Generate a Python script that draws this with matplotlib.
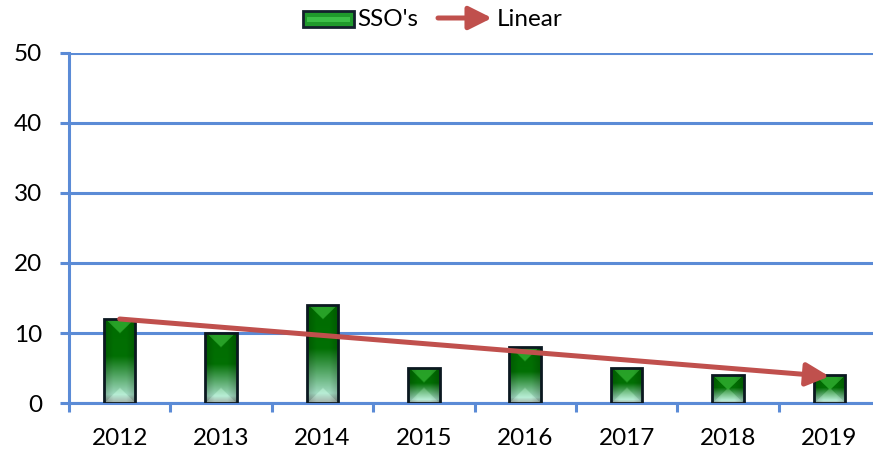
import numpy as np
import matplotlib
matplotlib.use("Agg")
import matplotlib.pyplot as plt
from matplotlib.patches import Rectangle, FancyArrowPatch

plt.rcParams['font.family'] = ['Lato', 'DejaVu Sans']

# ---- data ----
years = ['2012', '2013', '2014', '2015', '2016', '2017', '2018', '2019']
sso_counts = [12, 10, 14, 5, 8, 5, 4, 4]
trend_years_idx = [0, 7]          # trendline drawn from first to last category
trend_values = [12.0, 3.8]
y_ticks = [0, 10, 20, 30, 40, 50]

W, H = 873, 455
DPI = 100
BLUE = '#5B8BD6'
RED = '#C0504D'

fig = plt.figure(figsize=(W / DPI, H / DPI), dpi=DPI)
ax = fig.add_axes([69 / W, 1 - 403 / H, (880 - 69) / W, 350 / H])

x = np.arange(len(years))
bar_w = 0.31
ax.set_xlim(-0.5, len(years) - 0.5)
ax.set_ylim(0, 50)

# pixel scale for bevel image generation
px_per_x = (880 - 69) / len(years)
px_per_y = 350 / 50.0

dark = np.array([0, 118, 0]) / 255
mid = np.array([20, 150, 40]) / 255
light = np.array([175, 238, 210]) / 255
bottom_gray = np.array([150, 160, 155]) / 255


def bar_image(val):
    wpx = max(int(round(bar_w * px_per_x)), 4)
    hpx = max(int(round(val * px_per_y)), 4)
    img = np.zeros((hpx, wpx, 3))
    yy, xx = np.mgrid[0:hpx, 0:wpx]
    t = (yy + 0.5) / hpx
    base = np.zeros((hpx, wpx, 3))
    for c in range(3):
        base[..., c] = np.interp(t, [0, 0.45, 0.9, 1.0],
                                 [dark[c], dark[c] * 0.9 + mid[c] * 0.1, light[c], bottom_gray[c]])
    dl = xx + 0.5
    dr = wpx - xx - 0.5
    dt = yy + 0.5
    db = hpx - yy - 0.5
    ds = np.minimum(dl, dr)
    b = wpx / 2.0
    top = (dt < ds) & (dt < b)
    bot = (db < ds) & (db < b) & ~top
    img[:] = base * 0.92
    top_col = np.array([60, 185, 60]) / 255
    img[top] = base[top] * 0.35 + top_col * 0.65
    img[bot] = np.clip(base[bot] * 0.8 + 0.2 * np.array([0.85, 0.92, 0.88]), 0, 1)
    shade = np.clip(ds / (wpx * 0.3), 0, 1)
    img *= (0.8 + 0.2 * shade)[..., None]
    return np.clip(img, 0, 1)


for xi, v in zip(x, sso_counts):
    rect = Rectangle((xi - bar_w / 2, 0), bar_w, v, facecolor='none',
                     edgecolor='#0B1820', linewidth=2.0, zorder=4)
    ax.add_patch(rect)
    im = ax.imshow(bar_image(v), extent=[xi - bar_w / 2, xi + bar_w / 2, 0, v],
                   aspect='auto', zorder=3, interpolation='bilinear')
    im.set_clip_path(rect)

ax.set_xlim(-0.5, len(years) - 0.5)
ax.set_ylim(0, 50)

# trendline with arrowhead
ax.annotate('', xy=(trend_years_idx[1], trend_values[1]),
            xytext=(trend_years_idx[0], trend_values[0]),
            arrowprops=dict(arrowstyle='-|>,head_length=0.7,head_width=0.35',
                            color=RED, lw=3.6, shrinkA=0, shrinkB=0,
                            mutation_scale=20),
            zorder=6)

# axes styling
for s in ['top', 'right']:
    ax.spines[s].set_visible(False)
for s in ['left', 'bottom']:
    ax.spines[s].set_color(BLUE)
    ax.spines[s].set_linewidth(2.2)
    ax.spines[s].set_zorder(2)

ax.set_yticks(y_ticks)
ax.set_yticklabels([str(v) for v in y_ticks])
ax.yaxis.grid(True, color=BLUE, linewidth=2.2, zorder=1)
ax.set_axisbelow(True)
ax.tick_params(axis='y', direction='out', length=6.5, width=2.2, color=BLUE,
               labelsize=17.5, pad=13, labelcolor='black')

ax.set_xticks(x)
ax.set_xticklabels(years)
ax.tick_params(axis='x', which='major', length=0, labelsize=17.5, pad=18,
               labelcolor='black')
ax.set_xticks(np.arange(-0.5, len(years) + 0.5, 1), minor=True)
ax.tick_params(axis='x', which='minor', direction='out', length=6.5, width=2.2,
               color=BLUE)

# legend (manual, top centre)
def fx(px):
    return px / W

def fy(py):
    return 1 - py / H

leg_rect = Rectangle((fx(303), fy(27)), 51 / W, 16 / H, transform=fig.transFigure,
                     facecolor='#1F9A2C', edgecolor='#13202C', linewidth=2.0)
fig.add_artist(leg_rect)
leg_inner = Rectangle((fx(307), fy(21.5)), 43 / W, 5 / H, transform=fig.transFigure,
                      facecolor='#3CC048', edgecolor='none')
fig.add_artist(leg_inner)
fig.text(fx(357), fy(19), "SSO's", fontsize=17.5, va='center', ha='left')
arr = FancyArrowPatch((fx(438), fy(18)), (fx(492), fy(18)), transform=fig.transFigure,
                      arrowstyle='-|>,head_length=0.7,head_width=0.35',
                      color=RED, lw=3.6, mutation_scale=20, shrinkA=0, shrinkB=0)
fig.add_artist(arr)
fig.text(fx(497), fy(19), "Linear", fontsize=17.5, va='center', ha='left')

fig.savefig('out.png', dpi=DPI)
